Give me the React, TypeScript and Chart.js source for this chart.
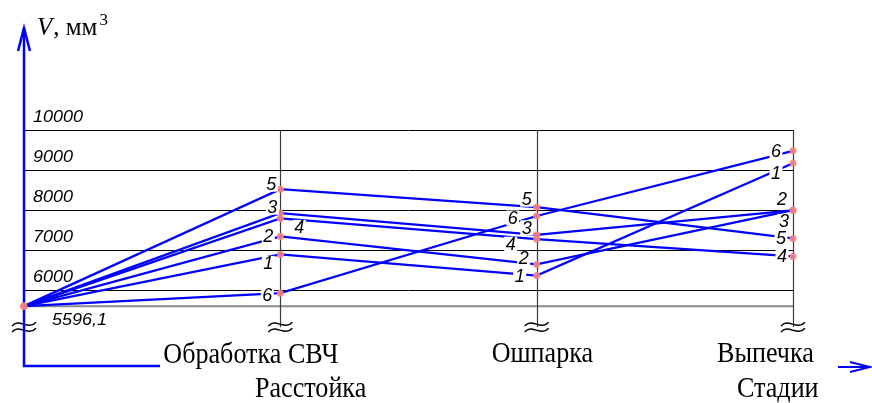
import React, { useEffect, useRef } from "react";
import { Chart, registerables } from "chart.js";

Chart.register(...registerables);

// ---- data ----
const stages = ["Расстойка", "Обработка СВЧ", "Ошпарка", "Выпечка"];
const startValue = 5596.1;
const startLabel = "5596,1";
const series1 = [startValue, 6890, 6360, 9170];
const series2 = [startValue, 7340, 6640, 8000];
const series3 = [startValue, 7920, 7380, 7990];
const series4 = [startValue, 7790, 7270, 6840];
const series5 = [startValue, 8520, 8070, 7290];
const series6 = [startValue, 5920, 7850, 9480];
const seriesNames = ["1", "2", "3", "4", "5", "6"];
const yTicks = [6000, 7000, 8000, 9000, 10000];
const yMax = 10000;
const yAxisTitle = "V";
const yAxisUnit = ", мм";
const yAxisPower = "3";
const xAxisTitle = "Стадии";

// ---- styles ----
const LABEL_OFFSETS: number[][][] = [
  [[-12, 9], [-17, 0], [-17, 10]],
  [[-12, 0], [-13, -6], [-11, -11]],
  [[-8, -6], [-10, -7], [-9, 11]],
  [[19, 9], [-26, 5], [-11, 0]],
  [[-9, -5], [-10, -8], [-12, 0]],
  [[-13, 2], [-24, 2], [-17, 0]],
];
const STAGE_LABEL_POS: number[][] = [
  [231, 397],
  [-117, 363],
  [-45, 362],
  [-76, 362],
];
const BLUE = "#0000ff";

function drawTilde(ctx: CanvasRenderingContext2D, x: number, y: number) {
  ctx.beginPath();
  ctx.moveTo(x - 12, y + 2);
  ctx.bezierCurveTo(x - 5, y - 7, x + 4, y + 7, x + 12, y - 2);
  ctx.stroke();
}

function scaledText(ctx: CanvasRenderingContext2D, text: string, x: number, y: number, sx: number) {
  ctx.save();
  ctx.translate(x, y);
  ctx.scale(sx, 1);
  ctx.fillText(text, 0, 0);
  ctx.restore();
}

const backgroundPlugin = {
  id: "bgDecor",
  beforeDatasetsDraw(chart: any) {
    const ctx: CanvasRenderingContext2D = chart.ctx;
    const xs = chart.scales.x;
    const ys = chart.scales.y;
    const left = xs.getPixelForValue(0);
    const right = xs.getPixelForValue(3);
    const top = ys.getPixelForValue(yMax);
    const base = ys.getPixelForValue(startValue);
    ctx.save();
    // horizontal grid
    ctx.strokeStyle = "#000";
    ctx.lineWidth = 1;
    yTicks.forEach((t) => {
      const y = Math.round(ys.getPixelForValue(t)) + 0.5;
      ctx.beginPath();
      ctx.moveTo(left, y);
      ctx.lineTo(right, y);
      ctx.stroke();
    });
    // base line
    ctx.strokeStyle = "#8a8a8a";
    ctx.lineWidth = 2;
    ctx.beginPath();
    ctx.moveTo(left, base);
    ctx.lineTo(right, base);
    ctx.stroke();
    // vertical grid
    ctx.strokeStyle = "#3a3a3a";
    ctx.lineWidth = 1.2;
    for (let i = 1; i < stages.length; i++) {
      const x = Math.round(xs.getPixelForValue(i)) + 0.5;
      ctx.beginPath();
      ctx.moveTo(x, top);
      ctx.lineTo(x, base + 21);
      ctx.stroke();
    }
    // break marks
    ctx.strokeStyle = "#000";
    ctx.lineWidth = 1.5;
    for (let i = 0; i < stages.length; i++) {
      const x = xs.getPixelForValue(i);
      drawTilde(ctx, x, base + 18);
      drawTilde(ctx, x, base + 24);
    }
    // blue axes
    ctx.strokeStyle = BLUE;
    ctx.lineWidth = 2.5;
    ctx.beginPath();
    ctx.moveTo(left, 28);
    ctx.lineTo(left, 366);
    ctx.lineTo(160, 366);
    ctx.stroke();
    ctx.beginPath();
    ctx.moveTo(left - 6, 51);
    ctx.lineTo(left, 28);
    ctx.lineTo(left + 6, 51);
    ctx.stroke();
    ctx.lineWidth = 2;
    ctx.beginPath();
    ctx.moveTo(838, 367);
    ctx.lineTo(869, 367);
    ctx.stroke();
    ctx.beginPath();
    ctx.moveTo(850, 362);
    ctx.lineTo(870, 367);
    ctx.lineTo(850, 372);
    ctx.stroke();

    // tick labels
    ctx.fillStyle = "#000";
    ctx.font = 'italic 17px "Liberation Sans"';
    ctx.textBaseline = "alphabetic";
    ctx.textAlign = "left";
    yTicks.forEach((t) => {
      const y = ys.getPixelForValue(t);
      scaledText(ctx, String(t), 33, y - 8, 1.06);
    });
    scaledText(ctx, startLabel, 52, base + 19, 1.06);

    // stage labels
    ctx.font = '30px "Liberation Serif"';
    stages.forEach((s, i) => {
      const x = xs.getPixelForValue(i) + STAGE_LABEL_POS[i][0];
      scaledText(ctx, s, x, STAGE_LABEL_POS[i][1], 0.87);
    });
    scaledText(ctx, xAxisTitle, 737, 397, 0.87);

    // y axis title
    ctx.font = 'italic 25px "Liberation Serif"';
    ctx.fillText(yAxisTitle, 37, 35);
    const vw = ctx.measureText(yAxisTitle).width;
    ctx.font = '25px "Liberation Serif"';
    ctx.fillText(yAxisUnit, 37 + vw + 1, 35);
    const uw = ctx.measureText(yAxisUnit).width;
    ctx.font = '17px "Liberation Serif"';
    ctx.fillText(yAxisPower, 37 + vw + 2 + uw + 1, 25);
    ctx.restore();
  },
};

const pointLabelPlugin = {
  id: "pointLabels",
  afterDatasetsDraw(chart: any) {
    const ctx: CanvasRenderingContext2D = chart.ctx;
    ctx.save();
    ctx.font = 'italic 18px "Liberation Sans"';
    ctx.textAlign = "center";
    ctx.textBaseline = "middle";
    chart.data.datasets.forEach((ds: any, di: number) => {
      const meta = chart.getDatasetMeta(di);
      meta.data.forEach((pt: any, pi: number) => {
        if (pi === 0) return;
        const off = LABEL_OFFSETS[di][pi - 1];
        const cx = pt.x + off[0];
        const cy = pt.y + off[1];
        const w = ctx.measureText(ds.label).width;
        ctx.fillStyle = "#fff";
        ctx.fillRect(cx - w / 2 - 1.5, cy - 7.5, w + 3, 15);
        ctx.fillStyle = "#000";
        ctx.fillText(ds.label, cx, cy + 1);
      });
    });
    ctx.restore();
  },
};

export default function App() {
  const ref = useRef<HTMLCanvasElement | null>(null);
  useEffect(() => {
    if (!ref.current) return;
    const all = [series1, series2, series3, series4, series5, series6];
    const chart = new Chart(ref.current, {
      type: "line",
      data: {
        datasets: all.map((arr, k) => ({
          label: seriesNames[k],
          data: arr.map((v, i) => ({ x: i, y: v })),
          borderColor: BLUE,
          borderWidth: 2.3,
          pointRadius: 3.5,
          pointBackgroundColor: "rgba(245,130,130,0.9)",
          pointBorderWidth: 0,
          tension: 0,
          clip: false as any,
        })),
      },
      options: {
        responsive: false,
        animation: false,
        devicePixelRatio: 1,
        layout: { padding: { left: 24, right: 79, top: 130, bottom: 96.84 } },
        scales: {
          x: { type: "linear", min: 0, max: stages.length - 1, display: false },
          y: { type: "linear", min: startValue, max: yMax, display: false },
        },
        plugins: { legend: { display: false }, tooltip: { enabled: false } },
        events: [],
      },
      plugins: [backgroundPlugin, pointLabelPlugin],
    });
    return () => chart.destroy();
  }, []);
  return (
    <div style={{ position: "fixed", left: 0, top: 0, width: 872, height: 403, background: "#fff" }}>
      <canvas ref={ref} width={872} height={403} style={{ display: "block", width: 872, height: 403 }} />
    </div>
  );
}
